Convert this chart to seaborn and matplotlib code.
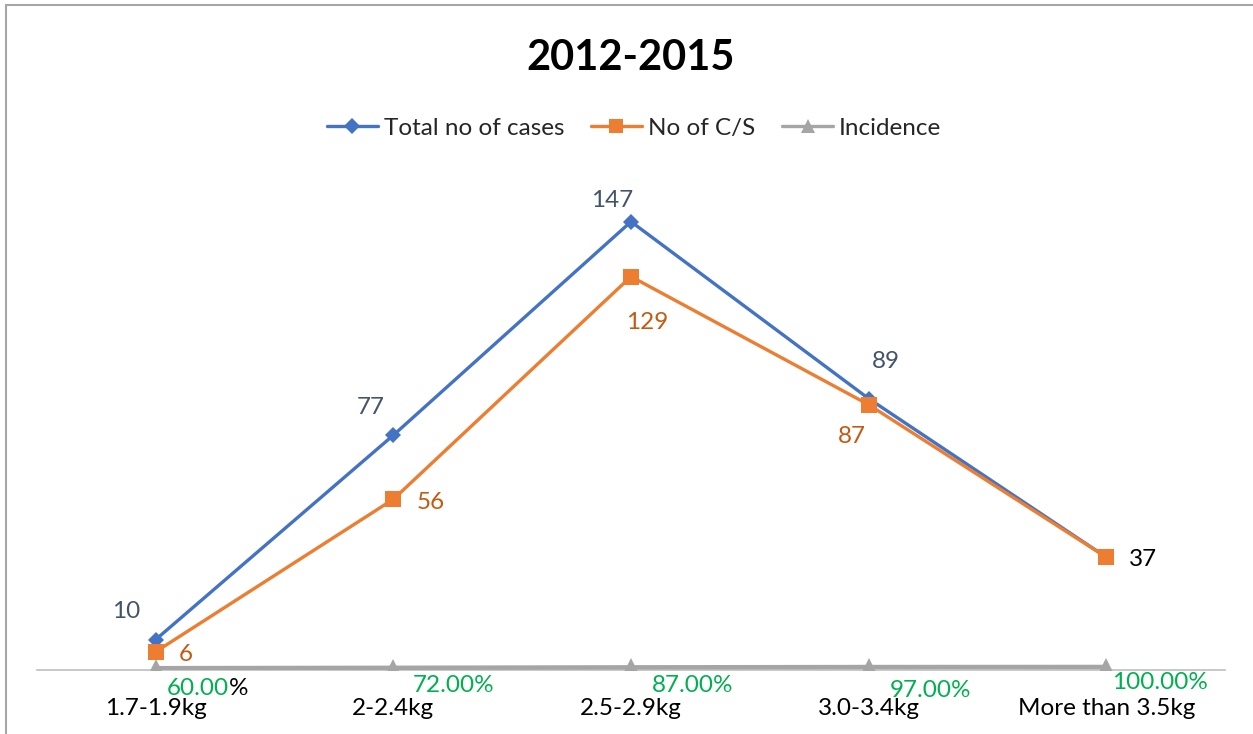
import matplotlib
matplotlib.use("Agg")
import matplotlib.pyplot as plt
import seaborn as sns
import numpy as np
import pandas as pd
from matplotlib.lines import Line2D

categories = ["1.7-1.9kg", "2-2.4kg", "2.5-2.9kg", "3.0-3.4kg", "More than 3.5kg"]
total_cases = [10, 77, 147, 89, 37]
cs_cases = [6, 56, 129, 87, 37]
incidence = [0.60, 0.72, 0.87, 0.97, 1.00]
incidence_labels = ["60.00", "72.00%", "87.00%", "97.00%", "100.00%"]
title = "2012-2015"

sns.set_theme(style="white")
plt.rcParams["font.family"] = ["Lato", "DejaVu Sans"]

BLUE = "#4472C4"
ORANGE = "#ED7D31"
GRAY = "#A5A5A5"
GREEN = "#00B050"
SLATE = "#44546A"
DORANGE = "#C55A11"
FS = 17.5

W, H = 1253, 734
fig = plt.figure(figsize=(W / 100, H / 100), dpi=100)
ax = fig.add_axes([37 / W, 1 - 670 / H, (1225 - 37) / W, (670 - 182) / H])

pos = np.arange(len(categories))
df = pd.DataFrame({"pos": pos, "total": total_cases, "cs": cs_cases, "inc": incidence})

sns.lineplot(data=df, x="pos", y="inc", ax=ax, color=GRAY, lw=3.2, marker="^",
             markersize=13, markeredgewidth=0, zorder=3)
sns.lineplot(data=df, x="pos", y="total", ax=ax, color=BLUE, lw=2.4, marker="D",
             markersize=8, markeredgewidth=0, zorder=4)
sns.lineplot(data=df, x="pos", y="cs", ax=ax, color=ORANGE, lw=2.4, marker="s",
             markersize=11, markeredgewidth=0, zorder=5)

ax.set_xlim(-0.5, len(categories) - 0.5)
ax.set_ylim(0, 160)
ax.set_xlabel("")
ax.set_ylabel("")
ax.set_yticks([])
ax.set_xticks(pos)
ax.set_xticklabels(categories, fontsize=FS, color="black")
ax.tick_params(axis="x", length=0, pad=20)
for s in ["top", "right", "left"]:
    ax.spines[s].set_visible(False)
ax.spines["bottom"].set_color("#BFBFBF")
ax.spines["bottom"].set_linewidth(1.2)

# data labels: total cases
tot_off = [(-30, 28), (-23, 28), (-19, 21), (17, 37), None]
for i, v in enumerate(total_cases):
    if tot_off[i] is None:
        continue
    dx, dy = tot_off[i]
    ax.annotate(str(v), (pos[i], v), xytext=(dx, dy), textcoords="offset pixels",
                ha="center", va="center", fontsize=FS, color=SLATE)

cs_off = [(30, -3), (37, -3), (16, -46), (-17, -32), (37, -2)]
cs_col = [DORANGE, DORANGE, DORANGE, DORANGE, "black"]
for i, v in enumerate(cs_cases):
    dx, dy = cs_off[i]
    ax.annotate(str(v), (pos[i], v), xytext=(dx, dy), textcoords="offset pixels",
                ha="center", va="center", fontsize=FS, color=cs_col[i])

inc_off = [(73, -20), (60, -18), (62, -18), (62, -23), (54, -16)]
for i, v in enumerate(incidence):
    dx, dy = inc_off[i]
    if i == 0:
        ax.annotate(incidence_labels[i], (pos[i], v), xytext=(dx, dy),
                    textcoords="offset pixels", ha="right", va="center",
                    fontsize=FS, color=GREEN, annotation_clip=False)
        ax.annotate("%", (pos[i], v), xytext=(dx, dy), textcoords="offset pixels",
                    ha="left", va="center", fontsize=FS, color="black",
                    annotation_clip=False)
    else:
        ax.annotate(incidence_labels[i], (pos[i], v), xytext=(dx, dy),
                    textcoords="offset pixels", ha="center", va="center",
                    fontsize=FS, color=GREEN, annotation_clip=False)

fig.text(631 / W, 1 - 58 / H, title, ha="center", va="center", fontsize=30,
         fontweight="bold", color="black")

handles = [
    Line2D([], [], color=BLUE, lw=2.4, marker="D", markersize=8, markeredgewidth=0),
    Line2D([], [], color=ORANGE, lw=2.4, marker="s", markersize=10, markeredgewidth=0),
    Line2D([], [], color=GRAY, lw=2.4, marker="^", markersize=10, markeredgewidth=0),
]
fig.legend(handles, ["Total no of cases", "No of C/S", "Incidence"],
           loc="center", bbox_to_anchor=(634 / W, 1 - 128 / H), ncol=3,
           frameon=False, fontsize=FS, handlelength=2.1, handletextpad=0.25,
           columnspacing=1.1)

# chart frame (top and left edges)
fig.add_artist(Line2D([6 / W, 1], [1 - 5 / H, 1 - 5 / H], color="#A6A6A6", lw=1.5,
                      transform=fig.transFigure))
fig.add_artist(Line2D([6 / W, 6 / W], [0, 1 - 5 / H], color="#A6A6A6", lw=1.5,
                      transform=fig.transFigure))

fig.savefig("out.png", dpi=100)
